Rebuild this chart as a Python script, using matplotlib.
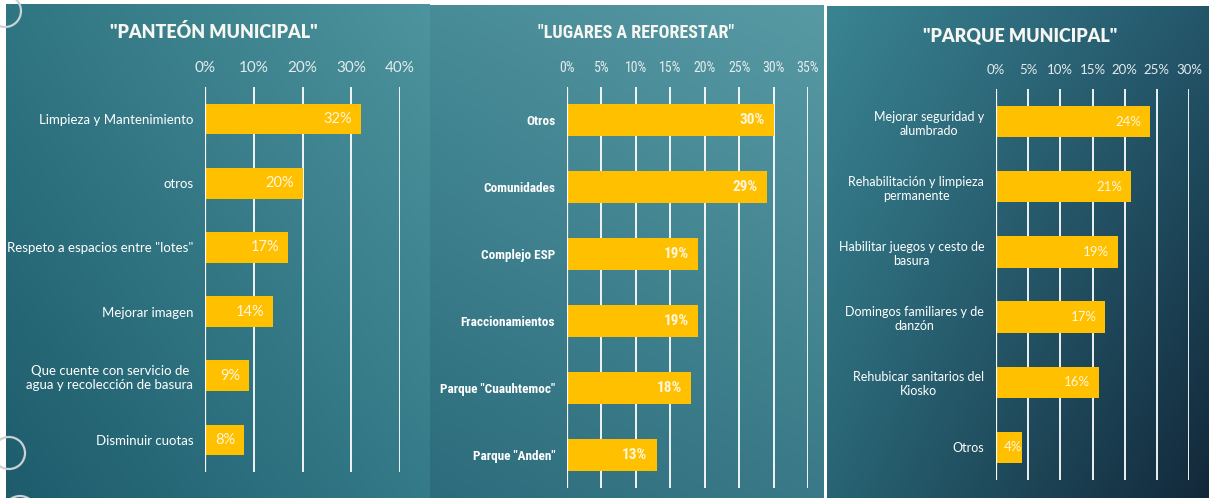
import numpy as np
import matplotlib
matplotlib.use("Agg")
import matplotlib.pyplot as plt
from matplotlib.patches import Circle

# ---- data ----
panteon_cats = ['Limpieza y Mantenimiento', 'otros', 'Respeto a espacios entre "lotes"',
                'Mejorar imagen', 'Que cuente con servicio de\nagua y recolección de basura',
                'Disminuir cuotas']
panteon_vals = [32, 20, 17, 14, 9, 8]
panteon_ticks = [0, 10, 20, 30, 40]

lugares_cats = ['Otros', 'Comunidades', 'Complejo ESP', 'Fraccionamientos',
                'Parque "Cuauhtemoc"', 'Parque "Anden"']
lugares_vals = [30, 29, 19, 19, 18, 13]
lugares_ticks = [0, 5, 10, 15, 20, 25, 30, 35]

parque_cats = ['Mejorar seguridad y\nalumbrado', 'Rehabilitación y limpieza\npermanente',
               'Habilitar juegos y cesto de\nbasura', 'Domingos familiares y de\ndanzón',
               'Rehubicar sanitarios del\nKiosko', 'Otros']
parque_vals = [24, 21, 19, 17, 16, 4]
parque_ticks = [0, 5, 10, 15, 20, 25, 30]

W, H = 1209, 498
BAR = '#FFC000'

fig = plt.figure(figsize=(W / 100, H / 100), dpi=100)
fig.patch.set_facecolor('white')

# background in pixel coordinates
bg = fig.add_axes([0, 0, 1, 1])
bg.axis('off')


def gradient(tl, tr, bl, br, n=200):
    t = np.linspace(0, 1, n)
    yy, xx = np.meshgrid(t, t, indexing='ij')
    out = np.zeros((n, n, 3))
    for c in range(3):
        out[..., c] = ((1 - xx) * (1 - yy) * tl[c] + xx * (1 - yy) * tr[c]
                       + (1 - xx) * yy * bl[c] + xx * yy * br[c]) / 255
    return out


bg.imshow(gradient((48, 118, 130), (78, 148, 158), (30, 92, 108), (52, 122, 136)),
          extent=(6, 430, H, 4), aspect='auto', zorder=0)
bg.imshow(gradient((72, 140, 152), (88, 154, 164), (44, 108, 124), (58, 122, 136)),
          extent=(430, 824, H, 5), aspect='auto', zorder=0)
bg.imshow(gradient((58, 132, 146), (36, 86, 106), (40, 100, 116), (18, 40, 58)),
          extent=(827, W, H, 6), aspect='auto', zorder=0)
bg.set_xlim(0, W)
bg.set_ylim(H, 0)
for (cx, cy, r) in [(5, 11, 16), (9, 453, 16), (20, 512, 16)]:
    bg.add_patch(Circle((cx, cy), r, fill=False, ec='#C9D2D6', lw=1.6, zorder=1))


def px_axes(x0, x1, y0, y1):
    return fig.add_axes([x0 / W, 1 - y1 / H, (x1 - x0) / W, (y1 - y0) / H])


value_texts = []


def panel(rect, cats, vals, ticks, title, title_xy, fam, bold, fs_cat, fs_tick, fs_val,
          fs_title, title_weight='heavy'):
    ax = px_axes(*rect)
    ax.patch.set_alpha(0)
    y = np.arange(len(cats))
    ax.barh(y, vals, height=0.48, color=BAR, zorder=2)
    ax.set_xlim(ticks[0], ticks[-1])
    ax.set_ylim(len(cats) - 0.5, -0.5)
    ax.set_xticks(ticks)
    ax.set_xticklabels([f'{t}%' for t in ticks], fontsize=fs_tick, color='#E4ECEE',
                       family=fam, fontweight='normal')
    ax.xaxis.tick_top()
    ax.set_yticks(y)
    ax.set_yticklabels(cats, fontsize=fs_cat, color='white', family=fam,
                       fontweight='bold' if bold else 'normal', multialignment='center')
    ax.tick_params(axis='both', length=0)
    ax.tick_params(axis='y', pad=8.5)
    ax.tick_params(axis='x', pad=9)
    ax.grid(axis='x', color='white', lw=1.3, zorder=1)
    ax.set_axisbelow(True)
    for s in ax.spines.values():
        s.set_visible(False)
    ax.axvline(0, color='white', lw=1.6, zorder=3)
    for yi, v in zip(y, vals):
        t = ax.annotate(f'{v}%', (v, yi), xytext=(-9, 0), textcoords='offset pixels',
                        ha='right', va='center', fontsize=fs_val, color='#FFF6DC',
                        family=fam, fontweight='bold' if bold else 'normal', zorder=4)
        value_texts.append((ax, t))
    bg.text(title_xy[0], title_xy[1], title, ha='center', va='center', color='#F6F6F2',
            fontsize=fs_title, fontweight=title_weight, family=fam, zorder=5)
    return ax


panel((205, 400, 87, 472), panteon_cats, panteon_vals, panteon_ticks,
      '"PANTEÓN MUNICIPAL"', (214, 32), ['Lato', 'DejaVu Sans'], False, 9.5, 11, 10.5, 13)
panel((567, 808, 87, 488), lugares_cats, lugares_vals, lugares_ticks,
      '"LUGARES A REFORESTAR"', (636, 33), ['Roboto Condensed', 'Roboto', 'DejaVu Sans'], True,
      9.5, 10, 11, 13)
panel((996, 1189, 89, 480), parque_cats, parque_vals, parque_ticks,
      '"PARQUE MUNICIPAL"', (1020, 36), ['Lato', 'DejaVu Sans'], False, 9, 9.5, 9.5, 13)

# small bars: keep the value label from running past the bar start
fig.canvas.draw()
renderer = fig.canvas.get_renderer()
for ax, t in value_texts:
    bb = t.get_window_extent(renderer)
    x_start = ax.transData.transform((0, 0))[0]
    if bb.x0 < x_start + 8:
        t.set_ha('left')
        t.xy = (0, t.xy[1])
        t.set_position((8, 0))

fig.savefig('out.png', dpi=100, facecolor='white')
